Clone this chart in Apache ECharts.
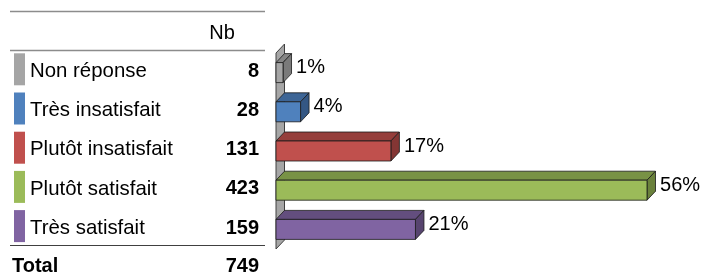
<!DOCTYPE html>
<html>
<head>
<meta charset="utf-8">
<style>
  html, body { margin: 0; padding: 0; background: #ffffff; }
  #chart { width: 702px; height: 278px; }
</style>
<script src="https://cdn.jsdelivr.net/npm/echarts@6/dist/echarts.min.js"></script>
</head>
<body>
<div id="chart"></div>
<script>
// ---- data ----
const categories = ['Non réponse', 'Très insatisfait', 'Plutôt insatisfait', 'Plutôt satisfait', 'Très satisfait'];
const counts = [8, 28, 131, 423, 159];
const totalCount = 749;
const headerLabel = 'Nb';
const totalLabel = 'Total';

// ---- styles ----
const palette = [
  { front: '#a5a5a5', top: '#868686', side: '#7a7a7a' },
  { front: '#4f81bd', top: '#3d6596', side: '#345784' },
  { front: '#c0504d', top: '#953e3b', side: '#843634' },
  { front: '#9bbb59', top: '#789245', side: '#6a813c' },
  { front: '#8064a2', top: '#634e7e', side: '#57446f' }
];
const FONT = '"Liberation Sans", Arial, sans-serif';
const DX = 8.5, DY = 9, HALF = 10;

const chart = echarts.init(document.getElementById('chart'), null, { renderer: 'canvas' });

function renderWall(params, api) {
  const cs = params.coordSys;
  const x = cs.x, y = cs.y, h = cs.height;
  return {
    type: 'polygon',
    shape: { points: [[x, y], [x + DX, y - DY], [x + DX, y + h - DY], [x, y + h]] },
    style: { fill: '#a6a6a6', stroke: '#404040', lineWidth: 1 }
  };
}

function renderBar(params, api) {
  const i = params.dataIndex;
  const v = api.value(0);
  const p0 = api.coord([0, i]);
  const p1 = api.coord([v, i]);
  const x0 = p0[0], x1 = p1[0], yc = p0[1];
  const yt = yc - HALF, yb = yc + HALF;
  const c = palette[i];
  const pct = Math.round(v / totalCount * 100) + '%';
  const ty = yc - 3.3;
  return {
    type: 'group',
    children: [
      { type: 'polygon', shape: { points: [[x0, yt], [x0 + DX, yt - DY], [x1 + DX, yt - DY], [x1, yt]] },
        style: { fill: c.top, stroke: '#1a1a1a', lineWidth: 0.8 } },
      { type: 'polygon', shape: { points: [[x1, yt], [x1 + DX, yt - DY], [x1 + DX, yb - DY], [x1, yb]] },
        style: { fill: c.side, stroke: '#1a1a1a', lineWidth: 0.8 } },
      { type: 'rect', shape: { x: x0, y: yt, width: x1 - x0, height: yb - yt },
        style: { fill: c.front, stroke: '#1a1a1a', lineWidth: 0.8 } },
      { type: 'text', x: x1 + 13, y: yc - 5,
        style: { text: pct, font: '20px ' + FONT, fill: '#000', align: 'left', verticalAlign: 'middle' } },
      // table row
      { type: 'rect', shape: { x: 14, y: ty - 16, width: 11, height: 32 }, style: { fill: c.front } },
      { type: 'text', x: 30, y: ty + 2,
        style: { text: categories[i], font: '20.4px ' + FONT, fill: '#000', align: 'left', verticalAlign: 'middle' } },
      { type: 'text', x: 259, y: ty + 2,
        style: { text: String(counts[i]), font: 'bold 20px ' + FONT, fill: '#000', align: 'right', verticalAlign: 'middle' } }
    ]
  };
}

chart.setOption({
  animation: false,
  grid: { left: 276, top: 53, width: 421, height: 196 },
  xAxis: { type: 'value', min: 0, max: 480, show: false },
  yAxis: { type: 'category', data: categories, inverse: true, show: false },
  graphic: [
    { type: 'line', shape: { x1: 10, y1: 11.5, x2: 265, y2: 11.5 }, style: { stroke: '#8c8c8c', lineWidth: 1.5 } },
    { type: 'line', shape: { x1: 10, y1: 50.5, x2: 265, y2: 50.5 }, style: { stroke: '#8c8c8c', lineWidth: 1.5 } },
    { type: 'line', shape: { x1: 10, y1: 245.5, x2: 265, y2: 245.5 }, style: { stroke: '#404040', lineWidth: 1 } },
    { type: 'text', x: 222, y: 33.5,
      style: { text: headerLabel, font: '20px ' + FONT, fill: '#000', align: 'center', verticalAlign: 'middle' } },
    { type: 'text', x: 12, y: 266.5,
      style: { text: totalLabel, font: 'bold 20px ' + FONT, fill: '#000', align: 'left', verticalAlign: 'middle' } },
    { type: 'text', x: 259, y: 266.5,
      style: { text: String(totalCount), font: 'bold 20px ' + FONT, fill: '#000', align: 'right', verticalAlign: 'middle' } }
  ],
  series: [
    { type: 'custom', z: 1, renderItem: renderWall, data: [[0, 0]], encode: { x: 0, y: 1 }, silent: true },
    { type: 'custom', z: 2, renderItem: renderBar, data: counts.map((v, i) => [v, i]), encode: { x: 0, y: 1 }, silent: true }
  ]
});
</script>
</body>
</html>
